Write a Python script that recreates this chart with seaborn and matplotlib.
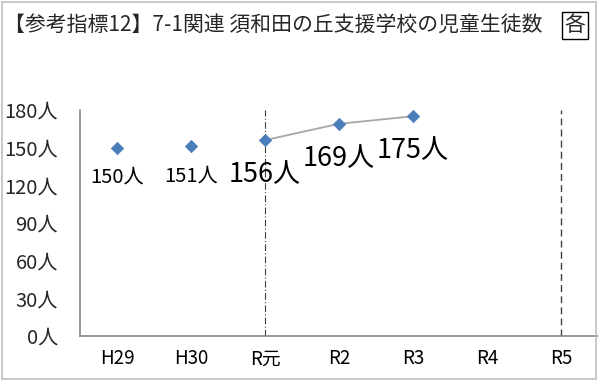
import numpy as np
import pandas as pd
import matplotlib
matplotlib.use("Agg")
import matplotlib.pyplot as plt
from matplotlib.patches import Rectangle
import seaborn as sns

# ---- data ----
categories = ["H29", "H30", "R元", "R2", "R3", "R4", "R5"]
students = [150, 151, 156, 169, 175, np.nan, np.nan]
y_ticks = [0, 30, 60, 90, 120, 150, 180]
title = "【参考指標12】7-1関連 須和田の丘支援学校の児童生徒数"

sns.set_theme(style="white")
plt.rcParams["font.family"] = ["Noto Sans CJK JP", "DejaVu Sans"]

df = pd.DataFrame({"pos": np.arange(len(categories)), "cat": categories, "val": students})

fig = plt.figure(figsize=(5.98, 3.81), dpi=100)
ax = fig.add_axes([80 / 598, 1 - 336 / 381, 1 - 80 / 598, (336 - 110) / 381])

# connected segment (from R元 onward)
line_df = df.iloc[2:].dropna()
sns.lineplot(data=line_df, x="pos", y="val", ax=ax, color="#a6a6a6", linewidth=1.3, zorder=2)
sns.scatterplot(data=df.dropna(), x="pos", y="val", ax=ax, marker="D", s=40,
                color="#4a7ebb", edgecolor="#4a7ebb", linewidth=0.5, zorder=3)

# vertical reference lines
ax.vlines(2, 0, 180, colors="#404040", linestyles=(0, (6, 2, 1, 2)), linewidth=0.8, zorder=1)
ax.vlines(6, 0, 180, colors="#404040", linestyles=(0, (5, 3)), linewidth=1.0, zorder=1)

# data labels
big = [False, False, True, True, True]
for i, v in enumerate(students):
    if np.isnan(v):
        continue
    fs = 19.5 if big[i] else 14.5
    off = -25 if big[i] else -21
    ax.annotate(f"{int(v)}人", (i, v), xytext=(0, off), textcoords="offset points",
                ha="center", va="center", fontsize=fs, color="black")

ax.set_xlim(-0.5, len(categories) - 0.5)
ax.set_ylim(0, 180)
ax.set_yticks(y_ticks)
ax.set_yticklabels([f"{t}人" for t in y_ticks], fontsize=14.5)
ax.set_xticks(df["pos"])
ax.set_xticklabels(categories, fontsize=13.5)
ax.set_xticks(np.arange(-0.5, len(categories), 1.0), minor=True)
ax.tick_params(axis="x", which="major", length=0, pad=9, colors="black")
ax.tick_params(axis="x", which="minor", length=5, direction="out", color="#868686", width=1)
ax.tick_params(axis="y", which="major", length=5, direction="in", color="#868686", width=1, pad=16)
ax.set_xlabel("")
ax.set_ylabel("")
for s in ["top", "right"]:
    ax.spines[s].set_visible(False)
for s in ["left", "bottom"]:
    ax.spines[s].set_color("#868686")
    ax.spines[s].set_linewidth(1.2)

fig.text(4 / 598, 1 - 25 / 381, title, fontsize=15, ha="left", va="center")
fig.text(575 / 598, 1 - 25 / 381, "各", fontsize=15, ha="center", va="center",
         bbox=dict(boxstyle="square,pad=0.12", fc="white", ec="black", lw=1))

# figure frame
fig.patches.append(Rectangle((0.003, 0.004), 0.994, 0.99, transform=fig.transFigure,
                             fill=False, ec="#bfbfbf", lw=1.2))

fig.savefig("out.png", dpi=100)
